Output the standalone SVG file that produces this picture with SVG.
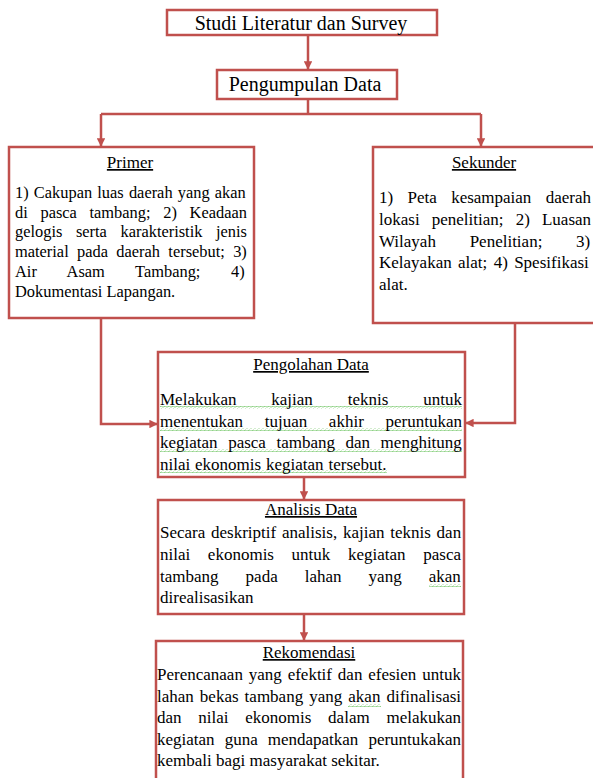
<svg xmlns="http://www.w3.org/2000/svg" width="593" height="778" viewBox="0 0 593 778">
<style>
.box{fill:#fff;stroke:#C0504D;stroke-width:2.5}
.con{fill:none;stroke:#C0504D;stroke-width:2.5}
text{font-family:"Liberation Serif","Times New Roman",serif;fill:#000}
.big{font-size:20px}
.ttl{font-size:17px;text-anchor:middle;text-decoration:underline}
.body{font-size:17px}
.pb{font-size:16.4px}
.sq{fill:url(#wavy)}
</style>
<defs>
<marker id="arr" viewBox="0 0 10 10" refX="9" refY="5" markerWidth="3.4" markerHeight="3.4" orient="auto" markerUnits="strokeWidth">
<path d="M0,0 L10,5 L0,10 Z" fill="#C0504D"/>
</marker>
<pattern id="wavy" width="4" height="3" patternUnits="userSpaceOnUse">
<path d="M0,2 Q1,0 2,1.5 T4,1.5" fill="none" stroke="#7BC96F" stroke-width="0.9"/>
</pattern>
</defs>
<g id="connectors">
<path class="con" d="M308,35 V69" marker-end="url(#arr)"/>
<path class="con" d="M308,99 V114"/>
<path class="con" d="M101,114 H481"/>
<path class="con" d="M101,114 V146" marker-end="url(#arr)"/>
<path class="con" d="M481,114 V146" marker-end="url(#arr)"/>
<path class="con" d="M101,318 V424 H157" marker-end="url(#arr)"/>
<path class="con" d="M515,323 V423 H466" marker-end="url(#arr)"/>
<path class="con" d="M304,477 V499" marker-end="url(#arr)"/>
<path class="con" d="M304,614 V640" marker-end="url(#arr)"/>
</g>
<g id="studi">
<rect class="box" x="167" y="10" width="270" height="25"/>
<text class="big" x="301" y="30" text-anchor="middle">Studi Literatur dan Survey</text>
</g>
<g id="pengumpulan">
<rect class="box" x="217" y="70" width="180" height="29"/>
<text class="big" x="305" y="91" text-anchor="middle">Pengumpulan Data</text>
</g>
<g id="primer">
<rect class="box" x="9" y="147" width="245" height="171"/>
<text class="ttl" x="130" y="168">Primer</text>
<text class="pb" x="15" y="198" word-spacing="1.1">1) Cakupan luas daerah yang akan</text>
<text class="pb" x="15" y="217.7" word-spacing="8.6">di pasca tambang; 2) Keadaan</text>
<text class="pb" x="15" y="237.4" word-spacing="9.5">gelogis serta karakteristik jenis</text>
<text class="pb" x="15" y="257" word-spacing="4.25">material pada daerah tersebut; 3)</text>
<text class="pb" x="15" y="276.8" word-spacing="26.5">Air Asam Tambang; 4)</text>
<text class="pb" x="15" y="296.5">Dokumentasi Lapangan.</text>
</g>
<g id="sekunder">
<rect class="box" x="373" y="147" width="224" height="176"/>
<text class="ttl" x="484" y="168">Sekunder</text>
<text class="body" x="379" y="203" word-spacing="10.1">1) Peta kesampaian daerah</text>
<text class="body" x="379" y="225" word-spacing="7.9">lokasi penelitian; 2) Luasan</text>
<text class="body" x="379" y="246.5" word-spacing="29.5">Wilayah Penelitian; 3)</text>
<text class="body" x="379" y="268" word-spacing="2.1">Kelayakan alat; 4) Spesifikasi</text>
<text class="body" x="379" y="290">alat.</text>
</g>
<g id="pengolahan">
<rect class="box" x="158" y="352" width="307" height="125"/>
<text class="ttl" x="311" y="370">Pengolahan Data</text>
<rect class="sq" x="160" y="406" width="302" height="3"/>
<rect class="sq" x="160" y="428" width="302" height="3"/>
<rect class="sq" x="160" y="449" width="302" height="3"/>
<rect class="sq" x="160" y="470" width="227" height="3"/>
<text class="body" x="160" y="405" word-spacing="30.6">Melakukan kajian teknis untuk</text>
<text class="body" x="160" y="426.5" word-spacing="17.4">menentukan tujuan akhir peruntukan</text>
<text class="body" x="160" y="448" word-spacing="6.3">kegiatan pasca tambang dan menghitung</text>
<text class="body" x="160" y="469.5" word-spacing="0.6">nilai ekonomis kegiatan tersebut.</text>
</g>
<g id="analisis">
<rect class="box" x="158" y="500" width="306" height="114"/>
<text class="ttl" x="311" y="515">Analisis Data</text>
<rect class="sq" x="429" y="584" width="32" height="3"/>
<text class="body" x="160" y="538.3" word-spacing="1.5">Secara deskriptif analisis, kajian teknis dan</text>
<text class="body" x="160" y="560" word-spacing="13.4">nilai ekonomis untuk kegiatan pasca</text>
<text class="body" x="160" y="581.7" word-spacing="22.8">tambang pada lahan yang akan</text>
<text class="body" x="160" y="603.3">direalisasikan</text>
</g>
<g id="rekomendasi">
<rect class="box" x="156" y="641" width="307" height="145"/>
<text class="ttl" x="309" y="658">Rekomendasi</text>
<rect class="sq" x="348" y="704" width="33" height="3"/>
<text class="body" x="157" y="680" word-spacing="1.6">Perencanaan yang efektif dan efesien untuk</text>
<text class="body" x="157" y="701.5" word-spacing="1.8">lahan bekas tambang yang akan difinalisasi</text>
<text class="body" x="157" y="723" word-spacing="12.5">dan nilai ekonomis dalam melakukan</text>
<text class="body" x="157" y="744.5" word-spacing="5.8">kegiatan guna mendapatkan peruntukakan</text>
<text class="body" x="157" y="766">kembali bagi masyarakat sekitar.</text>
</g>
</svg>
